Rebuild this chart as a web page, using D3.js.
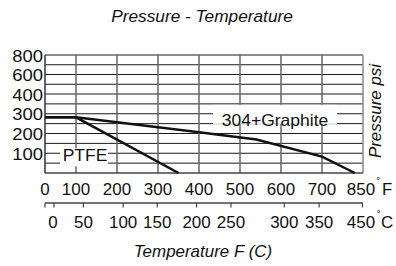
<!DOCTYPE html>
<html>
<head>
<meta charset="utf-8">
<script src="https://d3js.org/d3.v7.min.js"></script>
<style>
  body { margin: 0; background: #fff; }
  text { font-family: "Liberation Sans", Arial, sans-serif; fill: #111; }
</style>
</head>
<body>
<svg id="vis"></svg>
<script>
  // data
  var fTicks = [0, 100, 200, 300, 400, 500, 600, 700, 850]
  var pTicks = [100, 200, 300, 400, 600, 800]
  var pGrid = [50, 100, 150, 200, 250, 300, 350, 400, 500, 600, 700, 800]
  var cLabels = ['', '0', '50', '100', '150', '200', '250', '300', '350', '450']
  var cAtF = [0, 29, 118, 215, 298, 394, 478, 608, 693, 848]  // where each C tick sits on the F scale
  var graphiteF = [0, 100, 400, 540, 700, 820]
  var graphiteP = [282, 282, 206, 170, 83, 0]
  var ptfeF = [0, 100, 350]
  var ptfeP = [282, 282, 0]

  var W = 396, H = 266
  var svg = d3.select('#vis').attr('width', W).attr('height', H)

  // axes are not uniform on the original
  var x = d3.scaleLinear().domain([0, 100, 700, 850]).range([45, 76, 322, 363])
  var y = d3.scaleLinear().domain([0, 400, 800]).range([173, 94, 55])

  function label(sel, tx, ty, str, size, anchor, italic, sx) {
    return sel.append('text')
      .attr('transform', 'translate(' + tx + ',' + ty + ') scale(' + (sx || 1.06) + ',1)')
      .attr('text-anchor', anchor || 'middle')
      .style('font-size', size + 'px')
      .style('font-style', italic ? 'italic' : 'normal')
      .text(str)
  }

  // title
  label(svg, 202, 22, 'Pressure - Temperature', 16, 'middle', true, 1.08)

  // grid
  var grid = svg.append('g')
  grid.selectAll('.h').data(pGrid).enter().append('line')
    .attr('x1', x(0)).attr('x2', x(850))
    .attr('y1', function (d) { return y(d) }).attr('y2', function (d) { return y(d) })
    .attr('stroke', '#1a1a1a').attr('stroke-width', 1)
  grid.selectAll('.v').data(fTicks.slice(1, -1)).enter().append('line')
    .attr('x1', function (d) { return x(d) }).attr('x2', function (d) { return x(d) })
    .attr('y1', y(800)).attr('y2', y(0))
    .attr('stroke', '#666').attr('stroke-width', 1.5)
  grid.append('line').attr('x1', x(0)).attr('x2', x(0)).attr('y1', y(800)).attr('y2', y(0))
    .attr('stroke', '#333').attr('stroke-width', 1.5)
  grid.append('line').attr('x1', x(850)).attr('x2', x(850)).attr('y1', y(800)).attr('y2', y(0))
    .attr('stroke', '#888').attr('stroke-width', 1.5)
  grid.append('line').attr('x1', x(0)).attr('x2', x(850)).attr('y1', y(0)).attr('y2', y(0))
    .attr('stroke', '#444').attr('stroke-width', 1.5)

  // curves
  var line = d3.line().x(function (d) { return x(d[0]) }).y(function (d) { return y(d[1]) })
  svg.append('path').datum(d3.zip(graphiteF, graphiteP)).attr('d', line)
    .attr('fill', 'none').attr('stroke', '#111').attr('stroke-width', 2.5)
  svg.append('path').datum(d3.zip(ptfeF, ptfeP)).attr('d', line)
    .attr('fill', 'none').attr('stroke', '#111').attr('stroke-width', 2.5)

  // series labels on white boxes
  svg.append('rect').attr('x', 60).attr('y', y(125)).attr('width', 48).attr('height', 18).attr('fill', '#fff')
  label(svg, 85, y(60), 'PTFE', 16.5, 'middle')
  svg.append('rect').attr('x', 213).attr('y', y(345)).attr('width', 124).attr('height', 19).attr('fill', '#fff')
  label(svg, 275, y(240), '304+Graphite', 16.5, 'middle')

  // pressure tick labels
  pTicks.forEach(function (p) { label(svg, 43, y(p) + 6.5, p, 16.5, 'end', false, 1.12) })

  // F axis labels
  fTicks.forEach(function (f, i) { label(svg, x(f) - (i === fTicks.length - 1 ? 2 : 0), 195, f, 16, 'middle') })
  label(svg, 376.5, 186, '˚', 11, 'start')
  label(svg, 382, 195, 'F', 16, 'start')

  // C axis
  var cg = svg.append('g')
  cg.append('line').attr('x1', x(0)).attr('x2', x(850)).attr('y1', 203).attr('y2', 203)
    .attr('stroke', '#444').attr('stroke-width', 1.5)
  cg.selectAll('.t').data(cAtF).enter().append('line')
    .attr('x1', function (d) { return x(d) }).attr('x2', function (d) { return x(d) })
    .attr('y1', 203).attr('y2', 207.5)
    .attr('stroke', '#444').attr('stroke-width', 1.2)
  cAtF.forEach(function (f, i) {
    var dx = i === 1 ? -1 : (i === cAtF.length - 1 ? -1.5 : 0)
    if (cLabels[i]) label(svg, x(f) + dx, 228, cLabels[i], 16, 'middle')
  })
  label(svg, 377, 219, '˚', 11, 'start')
  label(svg, 381, 228, 'C', 16, 'start')

  // axis titles
  label(svg, 203, 257, 'Temperature F (C)', 16, 'middle', true, 1.06)
  svg.append('text')
    .attr('transform', 'translate(381,111) rotate(-90) scale(1.06,1)')
    .attr('text-anchor', 'middle')
    .style('font-size', '16px').style('font-style', 'italic')
    .text('Pressure psi')
</script>
</body>
</html>
